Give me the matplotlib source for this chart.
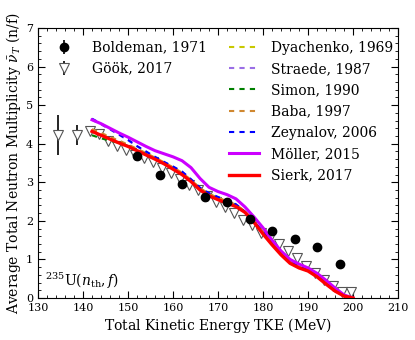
import matplotlib
matplotlib.use("Agg")
import matplotlib.pyplot as plt
from matplotlib.ticker import MultipleLocator

plt.rcParams['font.family'] = ['DejaVu Serif']
plt.rcParams['mathtext.fontset'] = 'dejavuserif'

# ---------------- data ----------------
bold_x = [152, 157, 162, 167, 172, 177, 182, 187, 192, 197]
bold_y = [3.67, 3.19, 2.95, 2.63, 2.48, 2.04, 1.74, 1.53, 1.32, 0.87]
bold_err = [0.04, 0.04, 0.04, 0.04, 0.04, 0.04, 0.04, 0.04, 0.04, 0.04]

gook_x = [134.5, 138.6, 141.5, 143.5, 145.5, 147.5, 149.5, 151.5, 153.5, 155.5,
          157.5, 159.5, 161.5, 163.5, 165.5, 167.5, 169.5, 171.5, 173.5, 175.5,
          177.5, 179.5, 181.5, 183.5, 185.5, 187.5, 189.5, 191.5, 193.5, 195.5,
          197.5, 199.5]
gook_y = [4.23, 4.23, 4.33, 4.25, 4.08, 3.95, 3.85, 3.72, 3.62, 3.52,
          3.38, 3.24, 3.08, 2.94, 2.80, 2.65, 2.48, 2.35, 2.20, 2.02,
          1.88, 1.68, 1.55, 1.41, 1.22, 1.04, 0.84, 0.64, 0.46, 0.30,
          0.15, 0.15]
gook_err = [0.52, 0.26, 0.02, 0.02, 0.02, 0.02, 0.02, 0.02, 0.02, 0.02,
            0.02, 0.02, 0.02, 0.02, 0.02, 0.02, 0.02, 0.02, 0.02, 0.02,
            0.02, 0.02, 0.02, 0.02, 0.02, 0.02, 0.02, 0.02, 0.02, 0.02,
            0.02, 0.02]

tke = [142, 144, 146, 148, 150, 152, 154, 156, 158, 160, 162, 164, 166, 168, 170,
       172, 174, 176, 178, 180, 182, 184, 186, 188, 190, 192, 194, 196, 198, 200]

dyachenko = [4.36, 4.26, 4.16, 4.06, 3.96, 3.85, 3.74, 3.62, 3.50, 3.37, 3.23, 3.05, 2.84, 2.69, 2.59,
             2.50, 2.41, 2.24, 1.98, 1.71, 1.43, 1.16, 0.94, 0.80, 0.71, 0.56, 0.37, 0.18, 0.05, 0.0]
straede = [4.62, 4.50, 4.37, 4.23, 4.09, 3.93, 3.79, 3.65, 3.52, 3.40, 3.27, 3.07, 2.85, 2.71, 2.61,
           2.52, 2.42, 2.23, 1.97, 1.71, 1.43, 1.17, 0.95, 0.81, 0.72, 0.57, 0.38, 0.19, 0.05, 0.0]
simon = [4.22, 4.14, 4.08, 4.02, 3.95, 3.85, 3.74, 3.62, 3.50, 3.37, 3.23, 3.05, 2.84, 2.69, 2.59,
         2.50, 2.41, 2.23, 1.97, 1.70, 1.42, 1.15, 0.93, 0.80, 0.71, 0.56, 0.37, 0.18, 0.05, 0.0]
baba = [4.38, 4.28, 4.18, 4.08, 3.98, 3.87, 3.76, 3.64, 3.52, 3.39, 3.25, 3.06, 2.85, 2.70, 2.60,
        2.51, 2.42, 2.25, 1.99, 1.72, 1.44, 1.17, 0.95, 0.81, 0.72, 0.57, 0.38, 0.19, 0.05, 0.0]
zeynalov = [4.65, 4.52, 4.38, 4.24, 4.10, 3.94, 3.80, 3.66, 3.53, 3.41, 3.28, 3.08, 2.86, 2.72, 2.62,
            2.53, 2.43, 2.24, 1.98, 1.72, 1.44, 1.18, 0.96, 0.82, 0.73, 0.58, 0.39, 0.20, 0.06, 0.0]
moller = [4.62, 4.52, 4.40, 4.28, 4.17, 4.05, 3.93, 3.82, 3.74, 3.66, 3.56, 3.38, 3.10, 2.87, 2.76,
          2.68, 2.57, 2.36, 2.10, 1.82, 1.50, 1.22, 1.00, 0.88, 0.78, 0.64, 0.46, 0.26, 0.08, 0.0]
sierk = [4.32, 4.22, 4.12, 4.02, 3.93, 3.82, 3.71, 3.60, 3.48, 3.34, 3.20, 3.02, 2.80, 2.65, 2.55,
         2.46, 2.37, 2.22, 1.96, 1.66, 1.38, 1.12, 0.90, 0.78, 0.70, 0.55, 0.36, 0.18, 0.05, 0.0]

dashed_series = [("Dyachenko, 1969", dyachenko, "#c8c800"),
                 ("Straede, 1987", straede, "#9a6ee6"),
                 ("Simon, 1990", simon, "green"),
                 ("Baba, 1997", baba, "#d08830"),
                 ("Zeynalov, 2006", zeynalov, "blue")]

# ---------------- figure ----------------
fig = plt.figure(figsize=(4.15, 3.4), dpi=100)
ax = fig.add_axes([0.0916, 0.1235, 0.8675, 0.7941])

line_handles = []
for lab, ys, col in dashed_series:
    h, = ax.plot(tke, ys, color=col, lw=1.5, ls=(0, (2.5, 2.5)), label=lab, zorder=3)
    line_handles.append(h)
h, = ax.plot(tke, moller, color="#cc00ff", lw=2.2, label="Möller, 2015", zorder=4)
line_handles.append(h)
h, = ax.plot(tke, sierk, color="red", lw=2.4, label="Sierk, 2017", zorder=5)
line_handles.append(h)

hb = ax.errorbar(bold_x, bold_y, yerr=bold_err, fmt='o', color='black', ms=6,
                 elinewidth=1.2, capsize=0, label="Boldeman, 1971", zorder=6)
hg = ax.errorbar(gook_x, gook_y, yerr=gook_err, fmt='v', mfc='white', mec='#555555',
                 ecolor='black', ms=6.5, mew=0.8, elinewidth=1.2, capsize=0,
                 label="Göök, 2017", zorder=2)

ax.set_xlim(130, 210)
ax.set_ylim(0, 7)
ax.xaxis.set_major_locator(MultipleLocator(10))
ax.xaxis.set_minor_locator(MultipleLocator(2))
ax.yaxis.set_major_locator(MultipleLocator(1))
ax.yaxis.set_minor_locator(MultipleLocator(0.2))
ax.tick_params(which='both', direction='in', top=True, right=True, labelsize=8)
ax.tick_params(which='major', length=5, width=0.8)
ax.tick_params(which='minor', length=2.5, width=0.6)
for s in ax.spines.values():
    s.set_linewidth(0.8)

ax.set_xlabel(r"Total Kinetic Energy $\mathrm{TKE}$ (MeV)", fontsize=10, labelpad=2)
ax.set_ylabel(r"Average Total Neutron Multiplicity $\bar{\nu}_T$ (n/f)", fontsize=10, labelpad=2)

ax.text(131.5, 0.3, r"$^{235}\mathrm{U}(n_\mathrm{th},f)$", fontsize=10, ha='left', va='baseline')

leg1 = ax.legend([hb, hg], ["Boldeman, 1971", "Göök, 2017"], loc='upper left',
                 frameon=False, fontsize=10, bbox_to_anchor=(0.0, 1.0), handletextpad=1.0,
                 labelspacing=0.5)
ax.add_artist(leg1)
ax.legend(handles=line_handles, loc='upper right', frameon=False, fontsize=10,
          bbox_to_anchor=(1.02, 1.0), handlelength=2.2, handletextpad=0.8,
          labelspacing=0.53)

fig.savefig("out.png", dpi=100)
